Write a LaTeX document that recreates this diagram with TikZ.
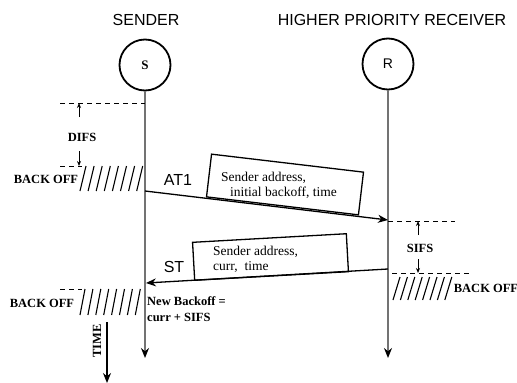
\documentclass[tikz,border=0pt]{standalone}
\usepackage{fontspec}
\setmainfont{Liberation Serif}
\setsansfont{Liberation Sans}
\usetikzlibrary{arrows.meta}
\tikzset{
  head/.style={font=\fontsize{16}{19}\selectfont\sffamily, inner sep=0pt},
  station/.style={draw, circle, line width=1.8pt, minimum size=51pt, inner sep=0pt},
  lifeline/.style={draw=black!55, line width=1.6pt, -{Stealth[length=10pt,width=8pt,color=black]}},
  msg/.style={line width=1.3pt, -{Stealth[length=10pt,width=8pt]}},
  frame/.style={draw, line width=1.3pt, inner sep=0pt},
  boxtext/.style={font=\fontsize{13.5}{15}\selectfont, align=left, inner sep=0pt},
  lbl/.style={font=\fontsize{12.5}{16}\selectfont\bfseries, inner sep=0pt},
  gap/.style={dash pattern=on 5pt off 4pt, line width=1pt},
  tick/.style={line width=1pt, -{Stealth[length=5pt,width=4pt]}},
  hatch/.style={line width=1.1pt}
}
\begin{document}
\begin{tikzpicture}[x=1pt,y=-1pt]
  \useasboundingbox (0,0) rectangle (517,383);
  \node[head] (sender) at (146,20) {SENDER};
  \node[head] (receiver) at (392,20) {HIGHER PRIORITY RECEIVER};
  \node[station, font=\fontsize{13}{13}\selectfont\bfseries] (S) at (145,65) {S};
  \node[station, font=\fontsize{14}{14}\selectfont\sffamily] (R) at (388,64) {R};
  \coordinate (Sbot) at (145,358);
  \coordinate (Rbot) at (388,358);
  \draw[lifeline] (S) -- (Sbot);
  \draw[lifeline] (R) -- (Rbot);

  \coordinate (difstop) at (60,103);
  \coordinate (difstopS) at (145,103);
  \draw[gap] (difstop) -- (difstopS);
  \coordinate (difsA) at (79,117);
  \draw[tick] (difsA) -- (difsA |- difstop);
  \node[lbl] (difs) at (82,137) {DIFS};
  \coordinate (difslow) at (60,166);
  \coordinate (difslowE) at (82,166);
  \draw[gap] (difslow) -- (difslowE);
  \coordinate (difsB) at (79,151);
  \draw[tick] (difsB) -- (difsB |- difslow);
  \foreach \i in {0,...,7}
    \draw[hatch] (86+8.1*\i,166) -- ++(-6,25);
  \node[lbl] (bo1) at (46,179) {BACK OFF};

  \coordinate (at1from) at (145,191);
  \coordinate (at1to) at (388,220);
  \draw[msg] (at1from) -- (at1to);
  \node[head] (at1) at (178,180) {AT1};
  \node[frame, rotate=-6.75, minimum width=153pt, minimum height=43pt] (at1box) at (285,184.5) {};
  \node[boxtext, anchor=west] (at1text) at (221,185) {Sender address,\\\hspace*{9pt}initial backoff, time};

  \coordinate (sifstop) at (388,221);
  \coordinate (sifstopE) at (455,221);
  \draw[gap] (sifstop) -- (sifstopE);
  \coordinate (sifsA) at (418,235);
  \draw[tick] (sifsA) -- (sifsA |- sifstop);
  \node[lbl] (sifs) at (420,248) {SIFS};
  \coordinate (sifslow) at (392,273);
  \coordinate (sifslowE) at (472,273);
  \draw[gap] (sifslow) -- (sifslowE);
  \coordinate (sifsB) at (418,259);
  \draw[tick] (sifsB) -- (sifsB |- sifslow);
  \foreach \i in {0,...,7}
    \draw[hatch] (400+7.4*\i,277) -- ++(-7,23);
  \node[lbl] (bo2) at (486,288) {BACK OFF};

  \coordinate (stfrom) at (388,269);
  \coordinate (stto) at (146,283);
  \draw[msg] (stfrom) -- (stto);
  \node[head] (st) at (174,267) {ST};
  \node[frame, rotate=3.2, minimum width=154pt, minimum height=38pt] (stbox) at (270.5,257) {};
  \node[boxtext, anchor=west] (sttext) at (213,259) {Sender address,\\curr,\ \ time};

  \coordinate (nbA) at (60,289);
  \coordinate (nbB) at (82,289);
  \draw[gap] (nbA) -- (nbB);
  \foreach \i in {0,...,7}
    \draw[hatch] (85+7.9*\i,289) -- ++(-5,26);
  \node[lbl] (bo3) at (42,303) {BACK OFF};
  \node[lbl, align=left, anchor=west] (newbo) at (147,309) {New Backoff =\\curr + SIFS};

  \coordinate (timeA) at (107,322);
  \coordinate (timeB) at (107,383);
  \draw[msg] (timeA) -- (timeB);
  \node[lbl, rotate=90] (time) at (97,341) {TIME};
\end{tikzpicture}
\end{document}
